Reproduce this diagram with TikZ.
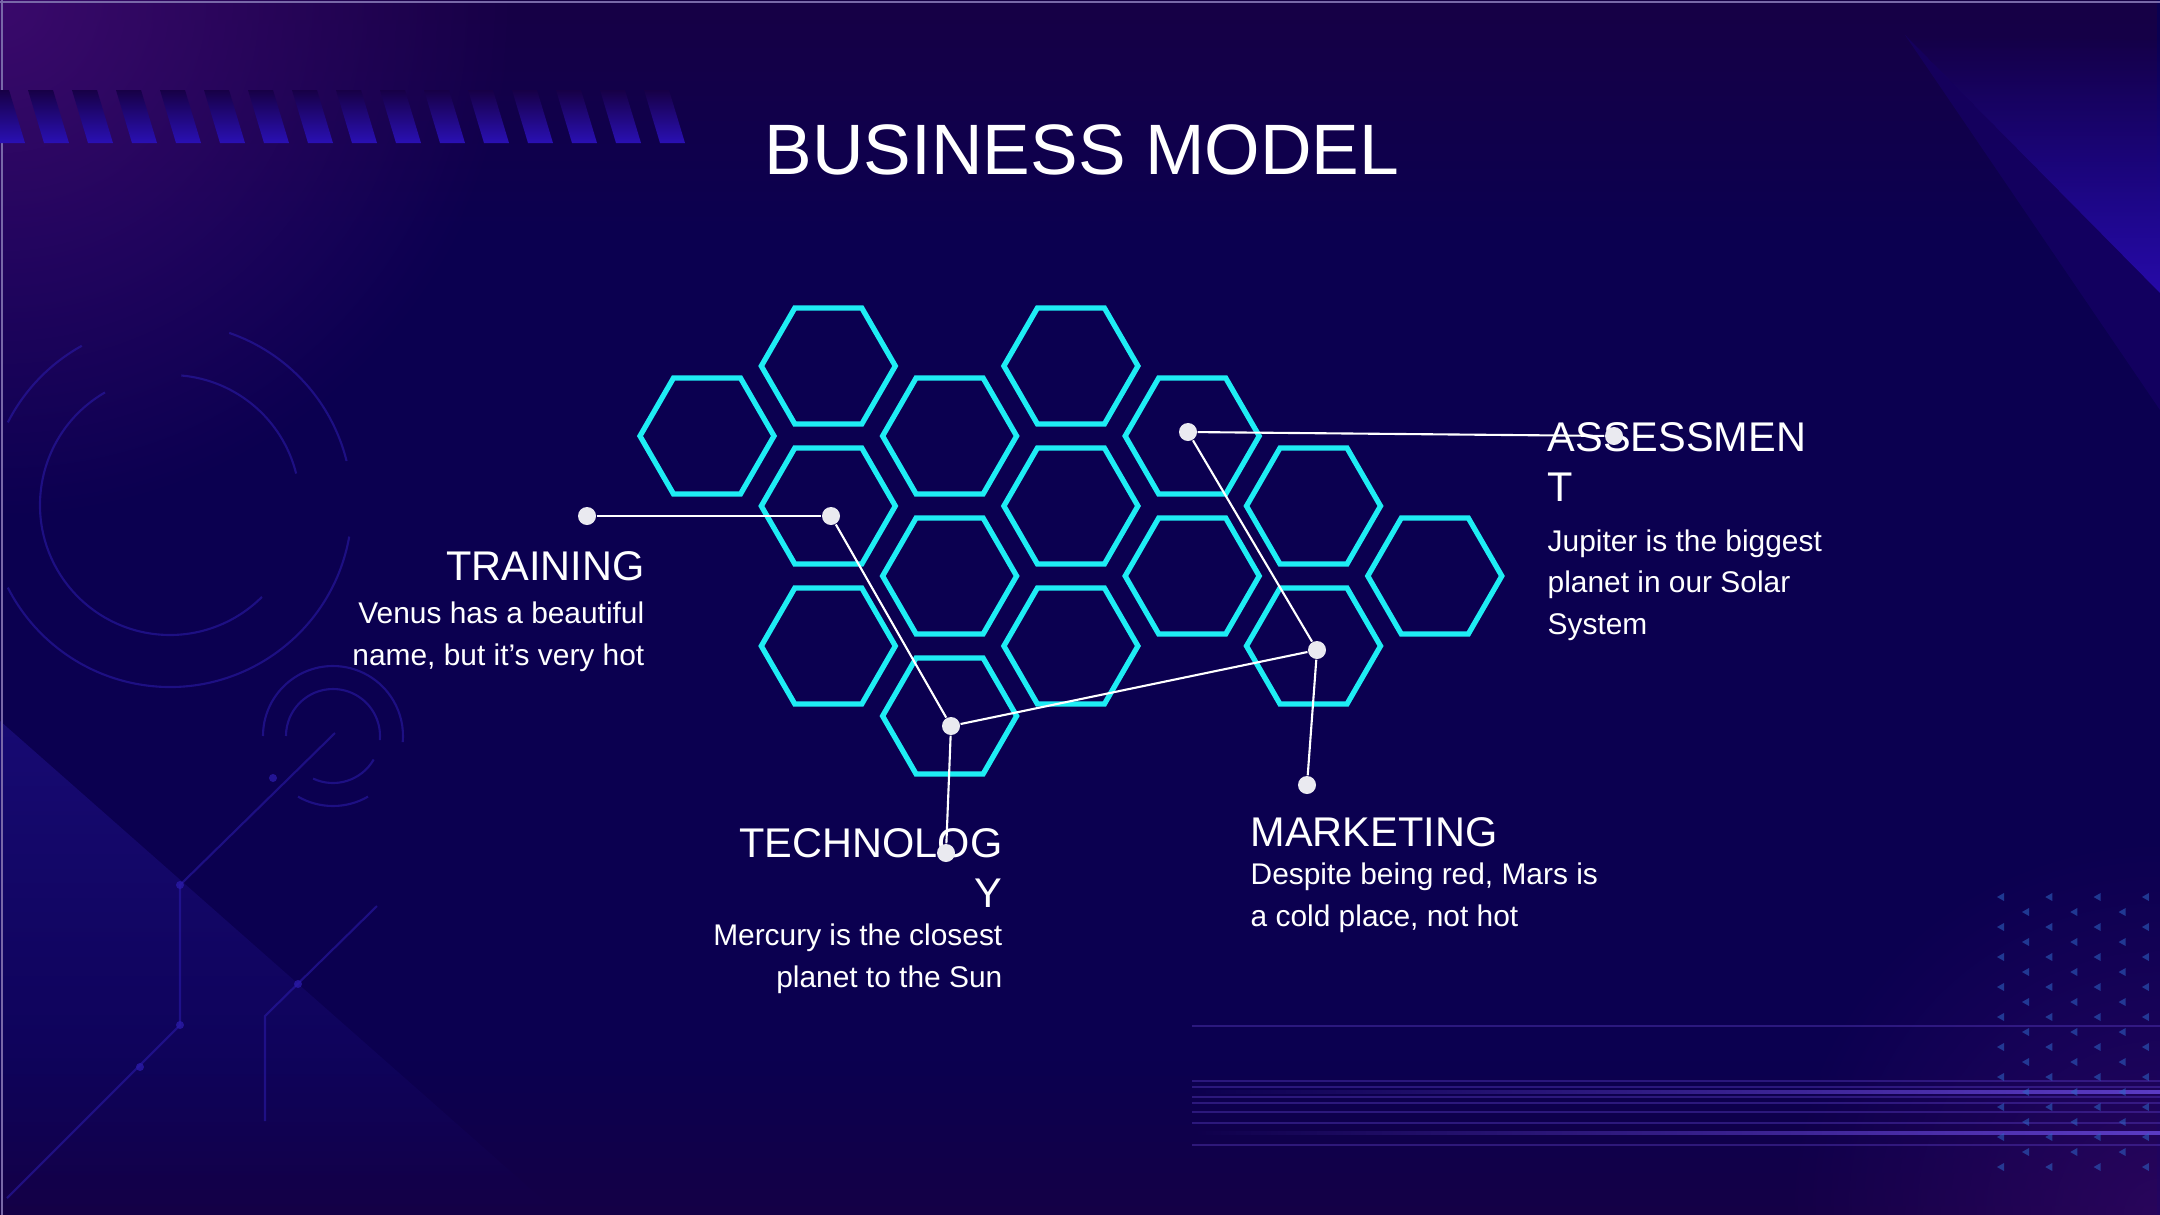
\documentclass[tikz,border=0pt]{standalone}
\usepackage{fontspec}
\setmainfont{Liberation Sans}
\usetikzlibrary{positioning,fadings}

\definecolor{bgbase}{HTML}{0B0050}
\definecolor{bgtop}{HTML}{170046}
\definecolor{bgbot}{HTML}{170044}
\definecolor{bgglow}{HTML}{3E0B70}
\definecolor{hexcyan}{HTML}{1EEDF4}
\definecolor{dotgrey}{HTML}{EAEAF0}
\definecolor{decoblue}{HTML}{2A1AA6}
\definecolor{bandblue}{HTML}{2C0CB8}
\definecolor{bandmid}{HTML}{17006A}
\definecolor{stripeblue}{HTML}{2A10B4}
\definecolor{triblue}{HTML}{2E66C8}
\definecolor{lineviolet}{HTML}{5B3CC4}
\definecolor{edgegrey}{HTML}{7868A8}
\tikzfading[name=glowout, inner color=transparent!0, outer color=transparent!100]

\begin{document}
\begin{tikzpicture}[x=0.01cm, y=-0.01cm,
  hexa/.style={draw=hexcyan, line width=1.5pt},
  dot/.style={circle, fill=dotgrey, minimum size=0.18cm, inner sep=0pt},
  link/.style={draw=white, line width=0.6pt},
  head/.style={text=white, font=\fontsize{11.8}{14.2}\selectfont, inner sep=0pt},
  body/.style={text=white, font=\fontsize{8.5}{11.7}\selectfont, inner sep=0pt},
  deco/.style={draw=decoblue, line width=0.6pt, opacity=0.6}]
  \useasboundingbox (0,0) rectangle (2160,1215);

  % background
  \fill[bgbase] (0,0) rectangle (2160,1215);
  \fill[bgtop, path fading=south] (0,0) rectangle (2160,240);
  \fill[bgbot, path fading=north, opacity=0.8] (0,1060) rectangle (2160,1215);
  \fill[bgglow, path fading=glowout, opacity=0.9] (0,0) circle (520);
  \fill[bgglow, path fading=glowout, opacity=0.5] (2160,1215) circle (380);
  \fill[decoblue, path fading=south, opacity=0.4] (0,721) -- (560,1215) -- (0,1215) -- cycle;
  \fill[bandmid, opacity=0.6] (1905,35) -- (2160,293) -- (2160,410) -- cycle;
  \fill[bandblue, path fading=north, opacity=0.85] (1905,35) -- (2160,293) -- (2160,40) -- cycle;
  \draw[edgegrey, line width=0.6pt] (0,2) -- (2160,2);
  \draw[edgegrey, line width=0.6pt] (2,0) -- (2,1215);

  % striped band, top left
  \begin{scope}
    \clip \foreach \k in {0,...,15} {(\k*44-16,90) -- (\k*44+9,90) -- (\k*44+25,143) -- (\k*44,143) -- cycle};
    \shade[top color=bgtop, bottom color=stripeblue] (0,90) rectangle (690,143);
  \end{scope}

  % rings and traces, left
  \draw[deco] (170,505) ++(-71:182) arc[start angle=-71, end angle=-14, radius=182];
  \draw[deco] (170,505) ++(10:182) arc[start angle=10, end angle=153, radius=182];
  \draw[deco] (170,505) ++(-119:182) arc[start angle=-119, end angle=-153, radius=182];
  \draw[deco] (170,505) ++(-120:130) arc[start angle=-120, end angle=-315, radius=130];
  \draw[deco] (170,505) ++(-85:130) arc[start angle=-85, end angle=-14, radius=130];
  \draw[deco] (333,736) ++(-180:70) arc[start angle=-180, end angle=5, radius=70];
  \draw[deco] (333,736) ++(120:70) arc[start angle=120, end angle=60, radius=70];
  \draw[deco] (333,736) ++(-180:47) arc[start angle=-180, end angle=5, radius=47];
  \draw[deco] (333,736) ++(115:47) arc[start angle=115, end angle=30, radius=47];
  \draw[deco] (335,733) -- (180,885) -- (180,1025) -- (7,1198);
  \draw[deco] (377,906) -- (265,1016) -- (265,1121);
  \foreach \p in {(273,778),(180,885),(180,1025),(140,1067),(298,984)}
    \fill[decoblue, opacity=0.8] \p circle (4);

  % lines and arrowheads, bottom right
  \foreach \y in {1026,1081,1087,1097,1103,1112,1123,1145}
    \draw[lineviolet, opacity=0.4, line width=0.5pt] (1192,\y) -- (2160,\y);
  \foreach \y in {1092,1133}
    \draw[lineviolet, path fading=west, line width=1.3pt] (1192,\y) -- (2160,\y);
  \foreach \c in {0,...,3}
    \foreach \k in {0,...,9}
      \fill[triblue, opacity=0.55] (2000+48.3*\c-3,897+30*\k) -- ++(7,-4) -- ++(0,8) -- cycle;
  \foreach \c in {0,...,2}
    \foreach \k in {0,...,8}
      \fill[triblue, opacity=0.55] (2025+48.3*\c-3,912+30*\k) -- ++(7,-4) -- ++(0,8) -- cycle;

  % honeycomb
  \foreach \i/\j in {0/0,1/0,1/1,1/2,2/0,2/1,2/2,3/0,3/1,3/2,4/0,4/1,5/1,5/2,6/1}{
    \pgfmathsetmacro\hx{707+121.3*\i}
    \pgfmathsetmacro\hy{366+70*mod(\i+1,2)+140*\j}
    \draw[hexa] (\hx,\hy) +(0:67) -- +(60:67) -- +(120:67) -- +(180:67) -- +(240:67) -- +(300:67) -- cycle;
  }

  \node[text=white, font=\fontsize{20.3}{24}\selectfont, inner sep=0pt, anchor=base] (title) at (1082,174) {BUSINESS MODEL};

  \node[head, anchor=base east] (train) at (645,580) {TRAINING};
  \node[body, align=right, below=0.85cm of train.base east, anchor=base east] (traintxt) {Venus has a beautiful\\name, but it’s very hot};
  \node[head, align=right, anchor=base east] (tech) at (1003,907) {TECHNOLOG\\Y};
  \node[body, align=right, below=0.8cm of tech.base east, anchor=base east] (techtxt) {Mercury is the closest\\planet to the Sun};
  \node[head, anchor=base west] (mark) at (1250,846) {MARKETING};
  \node[body, align=left, below=0.8cm of mark.base west, anchor=base west] (marktxt) {Despite being red, Mars is\\a cold place, not hot};
  \node[head, align=left, anchor=base west] (asse) at (1547,501) {ASSESSMEN\\T};
  \node[body, align=left, below=1.33cm of asse.base west, anchor=base west] (assetxt) {Jupiter is the biggest\\planet in our Solar\\System};

  % pins
  \node[dot] (trL) at (587,516) {};
  \node[dot] (trR) at (831,516) {};
  \node[dot] (teU) at (951,726) {};
  \node[dot] (teD) at (946,853) {};
  \node[dot] (mkU) at (1317,650) {};
  \node[dot] (mkD) at (1307,785) {};
  \node[dot] (asL) at (1188,432) {};
  \node[dot] (asR) at (1614,436) {};
  \foreach \a/\b in {trL/trR,trR/teU,teU/teD,teU/mkU,mkU/mkD,mkU/asL,asL/asR} \draw[link] (\a) -- (\b);
\end{tikzpicture}
\end{document}
